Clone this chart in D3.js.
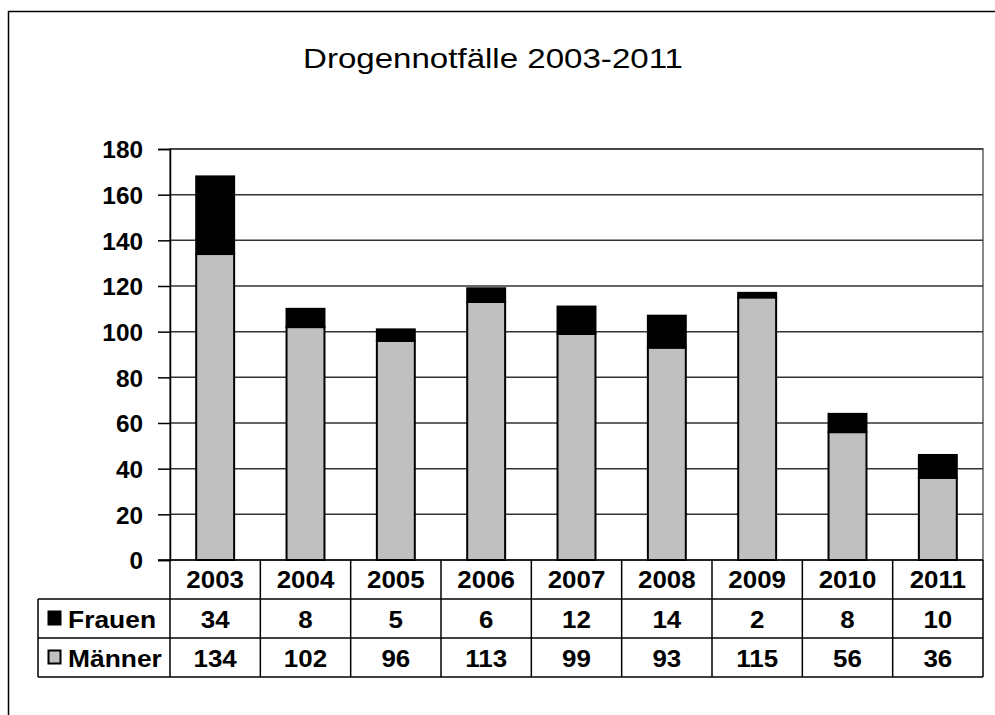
<!DOCTYPE html>
<html>
<head>
<meta charset="utf-8">
<script src="https://cdn.jsdelivr.net/npm/d3@7"></script>
<style>
  body { margin: 0; background: #fff; }
  svg text { font-family: "Liberation Sans", Arial, sans-serif; fill: #000; }
</style>
</head>
<body>
<div id="app"></div>
<script>
// data
const years = ["2003", "2004", "2005", "2006", "2007", "2008", "2009", "2010", "2011"];
const frauen = [34, 8, 5, 6, 12, 14, 2, 8, 10];
const maenner = [134, 102, 96, 113, 99, 93, 115, 56, 36];
const yTicks = [0, 20, 40, 60, 80, 100, 120, 140, 160, 180];
const seriesNames = ["Frauen", "Männer"];
const seriesColors = ["#000000", "#c0c0c0"];

const W = 995, H = 715;
const plot = { left: 170, right: 983, top: 149, bottom: 560 };
const rowH = 39;
const tableLeft = 38;

// the original text is rendered a bit wider than Arial, stretch it slightly
function widen(sel, factor) {
  sel.each(function() {
    const w = this.getComputedTextLength();
    d3.select(this).attr("textLength", w * factor).attr("lengthAdjust", "spacingAndGlyphs");
  });
}

const svg = d3.select("#app").append("svg")
  .attr("width", W)
  .attr("height", H);

// outer chart frame
svg.append("rect")
  .attr("x", 8.5).attr("y", 11.5)
  .attr("width", W + 20).attr("height", H + 20)
  .attr("fill", "none").attr("stroke", "#000").attr("stroke-width", 1.5);

// title
svg.append("text")
  .attr("x", 493).attr("y", 68)
  .attr("text-anchor", "middle")
  .style("font-size", "28px")
  .attr("textLength", 380).attr("lengthAdjust", "spacingAndGlyphs")
  .text("Drogennotfälle 2003-2011");

const x = d3.scaleBand().domain(years).range([plot.left, plot.right]).padding(0);
const y = d3.scaleLinear().domain([0, 180]).range([plot.bottom, plot.top]);

// plot area border (gray)
svg.append("rect")
  .attr("x", plot.left).attr("y", plot.top)
  .attr("width", plot.right - plot.left).attr("height", plot.bottom - plot.top)
  .attr("fill", "none").attr("stroke", "#888").attr("stroke-width", 2);

// grid lines
svg.append("g")
  .selectAll("line")
  .data(yTicks.filter(d => d > 0))
  .enter().append("line")
  .attr("x1", plot.left).attr("x2", plot.right)
  .attr("y1", d => y(d)).attr("y2", d => y(d))
  .attr("stroke", "#333").attr("stroke-width", 1.5);

// y axis
const yAxis = svg.append("g")
  .attr("transform", `translate(${plot.left},0)`)
  .call(d3.axisLeft(y).tickValues(yTicks).tickSize(12).tickPadding(15));
yAxis.select(".domain").attr("stroke", "#000").attr("stroke-width", 1.5);
yAxis.selectAll(".tick line").attr("stroke", "#000").attr("stroke-width", 1.5);
yAxis.selectAll(".tick text")
  .style("font-size", "23px").style("font-weight", "bold")
  .attr("dy", "0.38em")
  .call(widen, 1.06);

// stacked bars
const stackData = years.map((yr, i) => ({ year: yr, Frauen: frauen[i], Männer: maenner[i] }));
const stacked = d3.stack().keys(["Männer", "Frauen"])(stackData);
const barW = x.bandwidth() * 0.42;

svg.append("g")
  .selectAll("g")
  .data(stacked)
  .enter().append("g")
  .attr("fill", d => d.key === "Frauen" ? seriesColors[0] : seriesColors[1])
  .selectAll("rect")
  .data(d => d)
  .enter().append("rect")
  .attr("x", d => x(d.data.year) + (x.bandwidth() - barW) / 2)
  .attr("y", d => y(d[1]))
  .attr("width", barW)
  .attr("height", d => y(d[0]) - y(d[1]))
  .attr("stroke", "#000").attr("stroke-width", 2);

// x axis baseline
svg.append("line")
  .attr("x1", plot.left - 12).attr("x2", plot.right)
  .attr("y1", plot.bottom).attr("y2", plot.bottom)
  .attr("stroke", "#000").attr("stroke-width", 1.5);

// data table
const table = svg.append("g").attr("stroke", "#000").attr("stroke-width", 1.5);
const r1 = plot.bottom + rowH, r2 = r1 + rowH, r3 = r2 + rowH;

table.append("line").attr("x1", tableLeft).attr("x2", plot.right).attr("y1", r1).attr("y2", r1);
table.append("line").attr("x1", tableLeft).attr("x2", plot.right).attr("y1", r2).attr("y2", r2);
table.append("line").attr("x1", tableLeft).attr("x2", plot.right).attr("y1", r3).attr("y2", r3);
// left edge of legend column
table.append("line").attr("x1", tableLeft).attr("x2", tableLeft).attr("y1", r1).attr("y2", r3);
// vertical lines between years
table.selectAll("line.v")
  .data(years.map(d => x(d)).concat([plot.right]))
  .enter().append("line")
  .attr("class", "v")
  .attr("x1", d => d).attr("x2", d => d)
  .attr("y1", plot.bottom).attr("y2", r3);

const cellText = (g, yy, vals) => g.selectAll(null)
  .data(vals)
  .enter().append("text")
  .attr("x", (d, i) => x(years[i]) + x.bandwidth() / 2)
  .attr("y", yy)
  .attr("text-anchor", "middle")
  .style("font-size", "24px").style("font-weight", "bold")
  .text(d => d)
  .call(widen, 1.08);

const labels = svg.append("g");
cellText(labels, plot.bottom + 28, years);
cellText(labels, r1 + 29, frauen);
cellText(labels, r2 + 29, maenner);

// legend keys inside the table
const rowsY = [r1, r2];
seriesNames.forEach((name, i) => {
  labels.append("rect")
    .attr("x", 48.5).attr("y", rowsY[i] + 12.5)
    .attr("width", 12).attr("height", 13)
    .attr("fill", seriesColors[i]).attr("stroke", "#000").attr("stroke-width", 2);
  labels.append("text")
    .attr("x", 68).attr("y", rowsY[i] + 29)
    .style("font-size", "24px").style("font-weight", "bold")
    .text(name)
    .call(widen, 1.1);
});
</script>
</body>
</html>
